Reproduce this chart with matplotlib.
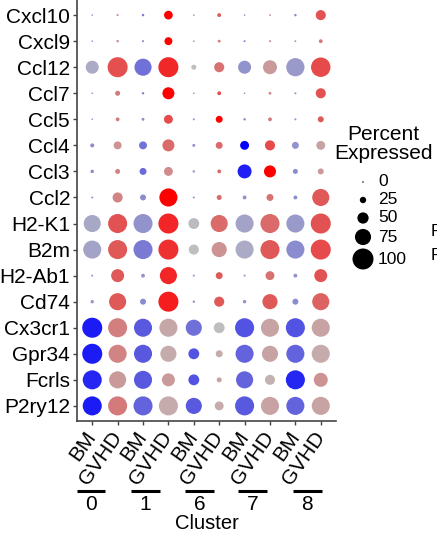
import matplotlib
matplotlib.use("Agg")
import matplotlib.pyplot as plt
import matplotlib.transforms as mtransforms
import numpy as np

plt.rcParams['font.family'] = ['Liberation Sans', 'DejaVu Sans']

genes = ['Cxcl10', 'Cxcl9', 'Ccl12', 'Ccl7', 'Ccl5', 'Ccl4', 'Ccl3', 'Ccl2',
         'H2-K1', 'B2m', 'H2-Ab1', 'Cd74', 'Cx3cr1', 'Gpr34', 'Fcrls', 'P2ry12']
conditions = ['BM', 'GVHD'] * 5
clusters = ['0', '1', '6', '7', '8']

# percent expressed, one row per gene, columns 0BM,0GVHD,1BM,...,8GVHD
pct = [
    [1, 3, 5, 37, 1, 12, 1, 2, 5, 44],
    [1, 5, 3, 33, 1, 7, 3, 3, 2, 12],
    [59, 95, 80, 95, 18, 44, 59, 64, 86, 92],
    [1, 18, 5, 54, 1, 12, 1, 7, 3, 44],
    [1, 12, 7, 38, 3, 28, 5, 12, 3, 23],
    [13, 33, 33, 54, 7, 28, 38, 44, 28, 38],
    [10, 18, 28, 38, 5, 12, 64, 54, 18, 23],
    [3, 44, 23, 85, 3, 18, 12, 28, 12, 80],
    [80, 90, 90, 95, 48, 80, 85, 90, 85, 95],
    [85, 90, 90, 95, 44, 70, 85, 90, 85, 95],
    [3, 59, 12, 80, 3, 28, 3, 38, 12, 59],
    [10, 80, 23, 95, 5, 44, 10, 70, 23, 80],
    [95, 90, 85, 85, 75, 48, 90, 85, 90, 85],
    [95, 85, 85, 75, 48, 28, 85, 75, 85, 85],
    [90, 80, 85, 59, 48, 18, 80, 44, 90, 64],
    [90, 90, 90, 90, 75, 38, 90, 85, 85, 85],
]

# scaled average expression (0 = grey, 1 = full condition colour)
avg_scaled = [
    [.2, .27, .36, 1, .2, .53, .2, .2, .27, .57],
    [.2, .27, .27, 1, .2, .36, .27, .27, .2, .36],
    [.1, .58, .41, .79, 0, .4, .23, .19, .19, .61],
    [.2, .36, .27, 1, .2, .61, .2, .27, .2, .57],
    [.2, .36, .27, .61, .2, 1, .27, .36, .2, .53],
    [.27, .23, .4, .44, .27, .44, 1, .61, .23, .14],
    [.27, .31, .44, .27, .2, .44, .84, 1, .27, .19],
    [.2, .31, .27, 1, .2, .44, .23, .4, .27, .53],
    [.12, .57, .23, .8, .02, .44, .14, .44, .19, .57],
    [.14, .53, .36, .75, 0, .23, .1, .53, .27, .61],
    [.2, .53, .23, .8, .2, .53, .2, .4, .23, .57],
    [.2, .53, .27, .85, .2, .53, .23, .53, .27, .48],
    [.86, .33, .53, .12, .41, 0, .57, .14, .57, .14],
    [.86, .31, .53, .1, .57, .1, .48, .14, .48, .1],
    [.8, .19, .53, .19, .57, .14, .48, .06, .8, .23],
    [.86, .36, .48, .1, .53, .1, .53, .14, .48, .14],
]

legend_pct = [0, 25, 50, 75, 100]

grey = np.array([190, 190, 190]) / 255
cond_colors = {'BM': np.array([0, 0, 1.0]), 'GVHD': np.array([1.0, 0, 0])}


def dot_size(p):
    # diameter in px -> marker area in pt^2 (dpi 100)
    d = 1.5 + 0.195 * np.asarray(p, dtype=float)
    return (d * 0.72) ** 2


pct_arr = np.array(pct)
t_arr = np.array(avg_scaled)
xs, ys, sizes, cols = [], [], [], []
for i in range(len(genes)):
    for j in range(len(conditions)):
        xs.append(j)
        ys.append(i)
        sizes.append(dot_size(pct_arr[i, j]))
        c = cond_colors[conditions[j]]
        cols.append(grey + t_arr[i, j] * (c - grey))

fig = plt.figure(figsize=(4.37, 5.33), dpi=100)
ax = fig.add_axes([77 / 437, 1 - 421 / 533, (336 - 77) / 437, 421 / 533])
ax.scatter(xs, ys, s=sizes, c=cols, linewidths=0, zorder=3)

ax.set_xlim(-0.6, 9.6)
ax.set_ylim(15.58, -0.58)
ax.set_yticks(range(len(genes)))
ax.set_yticklabels(genes, fontsize=15)
ax.set_xticks(range(len(conditions)))
ax.set_xticklabels(conditions, fontsize=15)
plt.setp(ax.get_xticklabels(), rotation=55, ha='right', va='center',
         rotation_mode='anchor')
for s in ['top', 'right']:
    ax.spines[s].set_visible(False)
for s in ['left', 'bottom']:
    ax.spines[s].set_color('#444444')
    ax.spines[s].set_linewidth(1.2)
ax.tick_params(axis='both', length=3, width=1.0, color='#444444', pad=2)
ax.tick_params(axis='x', pad=6)

# cluster groups under the condition labels
trans = mtransforms.blended_transform_factory(ax.transData, fig.transFigure)
group_x = [-0.04, 2.09, 4.22, 6.32, 8.47]
for gx, name in zip(group_x, clusters):
    ax.plot([gx - 0.56, gx + 0.56], [1 - 491 / 533] * 2, color='black',
            lw=2.2, transform=trans, clip_on=False, solid_capstyle='butt')
    ax.text(gx, 1 - 504 / 533, name, transform=trans, ha='center',
            va='center', fontsize=15)
ax.text(4.5, 1 - 514 / 533, 'Cluster', transform=trans, ha='center',
        va='top', fontsize=14.5)

# size legend
fig.text(383 / 437, 1 - 144 / 533, 'Percent\nExpressed', ha='center',
         va='center', fontsize=15, multialignment='center', linespacing=1.0)
lax = fig.add_axes([0, 0, 1, 1], facecolor='none')
lax.set_xlim(0, 437)
lax.set_ylim(533, 0)
lax.axis('off')
leg_y = [182, 200, 218, 237, 259]
lax.scatter([363] * len(legend_pct), leg_y, s=dot_size(legend_pct),
            color='black', linewidths=0)
for p, py in zip(legend_pct, leg_y):
    lax.text(378, py, str(p), ha='left', va='center', fontsize=12.5)

# edge of the neighbouring panel
lax.text(431, 231, 'P', ha='left', va='center', fontsize=12.5)
lax.text(431, 255, 'P', ha='left', va='center', fontsize=12.5)

fig.savefig('out.png', dpi=100)
